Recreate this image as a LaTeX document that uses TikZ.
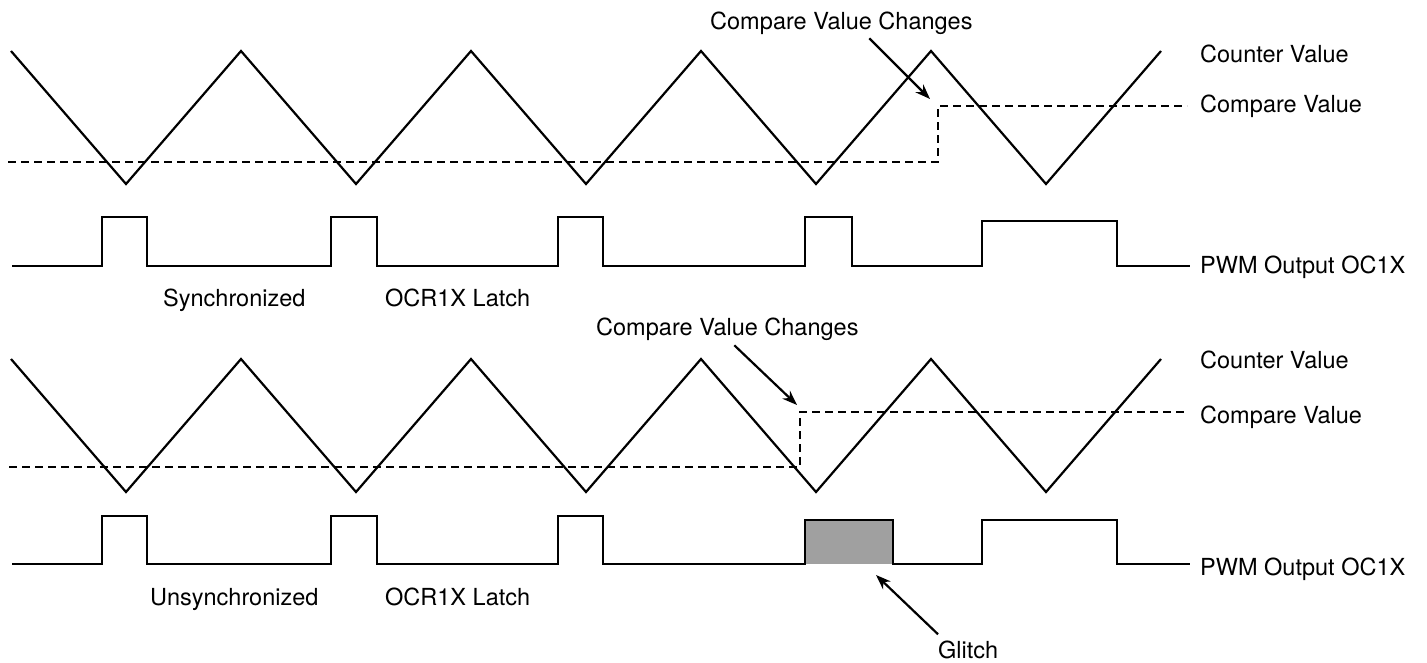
\documentclass[tikz,border=0pt]{standalone}
\usepackage{fontspec}
\setmainfont{TeX Gyre Heros}
\usetikzlibrary{arrows.meta}

\definecolor{glitchgray}{HTML}{A0A0A0}

\tikzset{
  wave/.style={black, line width=2.2pt},
  cmpline/.style={black, line width=2.2pt, dash pattern=on 8pt off 5pt},
  lbl/.style={anchor=base west, inner sep=0pt, font=\fontsize{23.5}{28}\selectfont},
  pointer/.style={black, line width=2.2pt, -{Stealth[length=15pt,width=11pt]}}
}

\begin{document}
\begin{tikzpicture}[x=1pt,y=-1pt]
        \useasboundingbox (0,0) rectangle (1427,663);

        % synchronized
        \draw[wave] (11,51) \foreach \i in {0,...,4} {-- ({126+230*\i},184) -- ({241+230*\i},51)};
        \draw[cmpline] (8,162) -- (938,162) -- (938,106) -- (1187,106);
        \draw[wave] (12,266) -- (102,266) -- (102,217) -- (147,217) -- (147,266)
            -- (331,266) -- (331,217) -- (377,217) -- (377,266)
            -- (558,266) -- (558,217) -- (603,217) -- (603,266)
            -- (805,266) -- (805,217) -- (852,217) -- (852,266)
            -- (982,266) -- (982,221) -- (1117,221) -- (1117,266) -- (1190,266);

        \node[lbl] (cntA) at (1200,63) {Counter Value};
        \node[lbl] (cmpA) at (1200,113) {Compare Value};
        \node[lbl] (pwmA) at (1200,273) {PWM Output OC1X};
        \node[lbl] (sync) at (163,306) {Synchronized};
        \node[lbl] (latchA) at (385,306) {OCR1X Latch};
        \node[lbl] (chgA) at (710,30) {Compare Value Changes};
        \coordinate (chgAend) at (930,99);
        \draw[pointer] ([xshift=28pt,yshift=-3pt]chgA.south) -- (chgAend);

        % unsynchronized
        \draw[wave] (11,359) \foreach \i in {0,...,4} {-- ({126+230*\i},492) -- ({241+230*\i},359)};
        \draw[cmpline] (9,467) -- (800,467) -- (800,412) -- (1187,412);
        \fill[glitchgray] (805,564) rectangle (893,520);
        \draw[wave] (12,564) -- (102,564) -- (102,516) -- (147,516) -- (147,564)
            -- (331,564) -- (331,516) -- (377,516) -- (377,564)
            -- (558,564) -- (558,516) -- (603,516) -- (603,564)
            -- (805,564) -- (805,520) -- (893,520) -- (893,564)
            -- (982,564) -- (982,520) -- (1117,520) -- (1117,564) -- (1190,564);

        \node[lbl] (cntB) at (1200,368) {Counter Value};
        \node[lbl] (cmpB) at (1200,423) {Compare Value};
        \node[lbl] (pwmB) at (1200,575) {PWM Output OC1X};
        \node[lbl] (unsync) at (150,605) {Unsynchronized};
        \node[lbl] (latchB) at (385,605) {OCR1X Latch};
        \node[lbl] (chgB) at (596,335) {Compare Value Changes};
        \coordinate (chgBend) at (797,405);
        \draw[pointer] ([xshift=7pt,yshift=-5pt]chgB.south) -- (chgBend);
        \node[lbl] (glitch) at (938,658) {Glitch};
        \coordinate (glitchend) at (876,575);
        \draw[pointer] ([yshift=6pt]glitch.north west) -- (glitchend);
    \end{tikzpicture}
\end{document}
